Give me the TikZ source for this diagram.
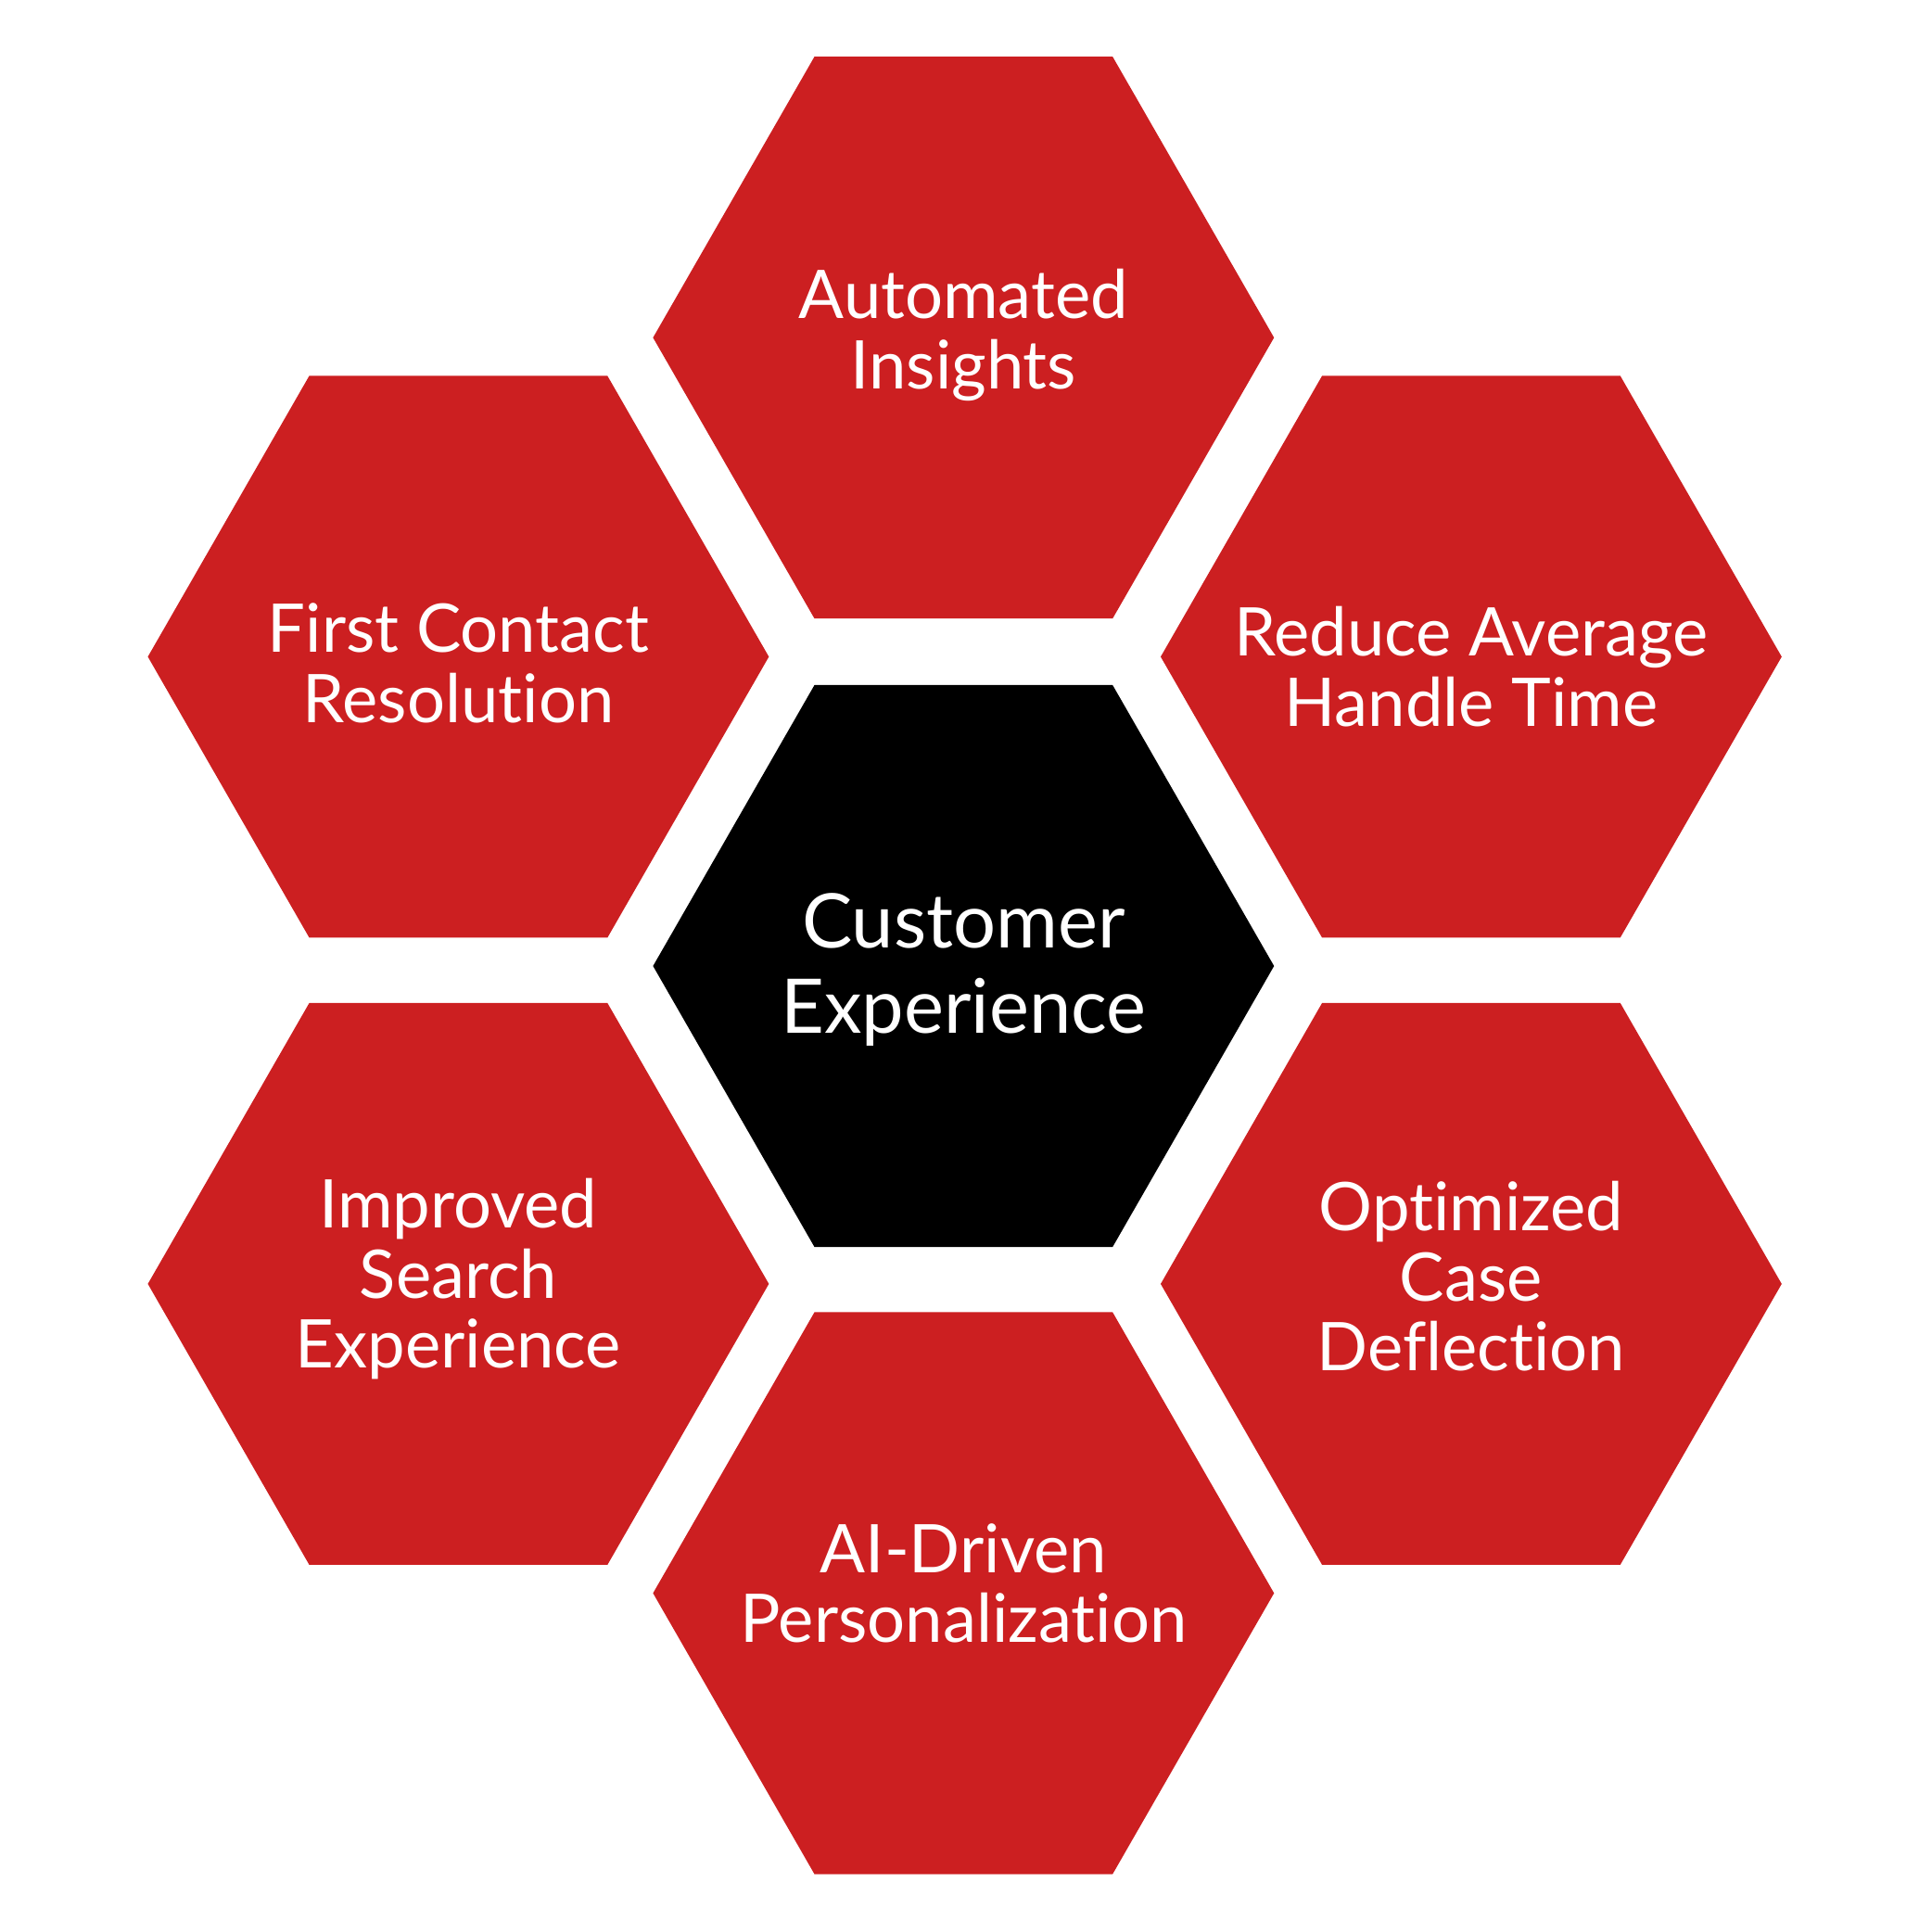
\documentclass[tikz,border=0pt]{standalone}
\usepackage{fontspec}
\setmainfont{Lato}[Ligatures=NoCommon]
\usepackage{tikz}
\usetikzlibrary{positioning,calc}

\definecolor{hexred}{RGB}{204,31,33}

\begin{document}
\begin{tikzpicture}[
    x=0.1mm, y=-0.1mm,
    cell/.style={fill=hexred},
    core/.style={fill=black},
    celltext/.style={text=white, align=center, font=\fontsize{15.5}{16.2}\selectfont},
    coretext/.style={text=white, align=center, font=\fontsize{17.4}{19.8}\selectfont},
    hexcell/.pic={\fill (-252,0) -- (-121,-228) -- (121,-228) -- (252,0) -- (121,228) -- (-121,228) -- cycle;}
]
\useasboundingbox (0,0) rectangle (1568,1568);

% Hexagons
\pic[core] at (782,784) {hexcell};
\pic[cell] at (782,274) {hexcell};
\pic[cell] at (372,533) {hexcell};
\pic[cell] at (1194,533) {hexcell};
\pic[cell] at (372,1042) {hexcell};
\pic[cell] at (1194,1042) {hexcell};
\pic[cell] at (782,1293) {hexcell};

% Texts
\node (cx) [coretext] at (782,787) {Customer\\Experience};
\node (insights) [celltext] at (782,272) {Automated\\Insights};
\node (fcr) [celltext] at (372,538) {First Contact\\Resolution};
\node (aht) [celltext] at (1194,541) {Reduce Average\\Handle Time};
\node (search) [celltext] at (372,1038) {Improved\\Search\\Experience};
\node (deflect) [celltext] at (1194,1036) {Optimized\\Case\\Deflection};
\node (ai) [celltext] at (782,1285) {AI-Driven\\Personalization};

\end{tikzpicture}
\end{document}
